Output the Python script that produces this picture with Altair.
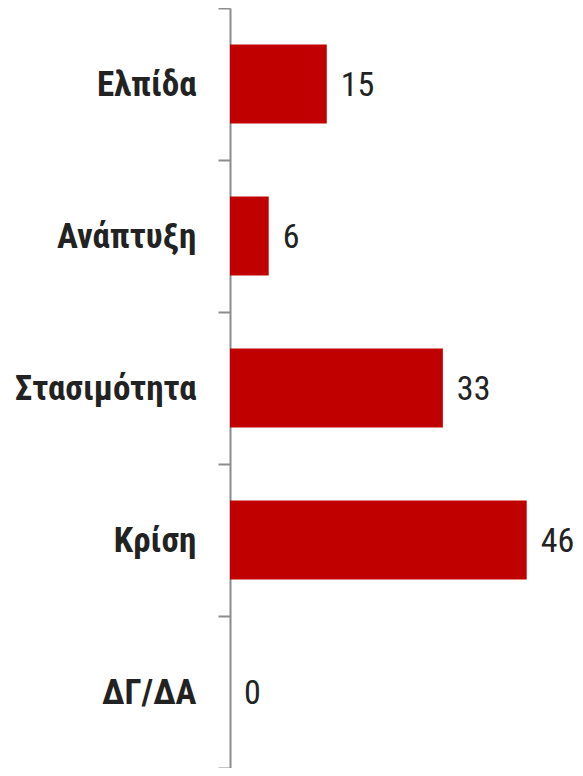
import altair as alt
import pandas as pd

categories = ["Ελπίδα", "Ανάπτυξη", "Στασιμότητα", "Κρίση", "ΔΓ/ΔΑ"]
values = [15, 6, 33, 46, 0]

df = pd.DataFrame({"cat": categories, "val": values})

LEFT = 222
W = 583 - 16 - LEFT
H = 760
PX_PER_UNIT = 6.45

y = alt.Y("cat:N", sort=categories,
          scale=alt.Scale(paddingInner=0, paddingOuter=0),
          axis=alt.Axis(title=None, tickBand="extent", domainColor="#8c8c8c",
                        domainWidth=2, tickColor="#8c8c8c", tickWidth=2,
                        tickSize=12, labelPadding=22, labelFontSize=35,
                        labelLimit=300,
                        labelFont="Roboto Condensed, Roboto", labelFontWeight="bold",
                        labelColor="#222222", grid=False))
x = alt.X("val:Q", scale=alt.Scale(domain=[0, W / PX_PER_UNIT], nice=False),
          axis=None)

bars = alt.Chart(df).mark_bar(color="#C00000", size=79).encode(x=x, y=y)
text = alt.Chart(df).mark_text(align="left", baseline="middle", dx=14, dy=2,
                               fontSize=34, font="Roboto Condensed, Roboto",
                               color="#222222").encode(x=x, y=y, text="val:Q")

chart = (bars + text).properties(
    width=W, height=H,
    autosize=alt.AutoSizeParams(type="none"),
    padding={"left": LEFT, "top": 0, "right": 0, "bottom": 0},
).configure_view(stroke=None)

chart.save("out.html", embed_options={"renderer": "svg", "actions": False})
